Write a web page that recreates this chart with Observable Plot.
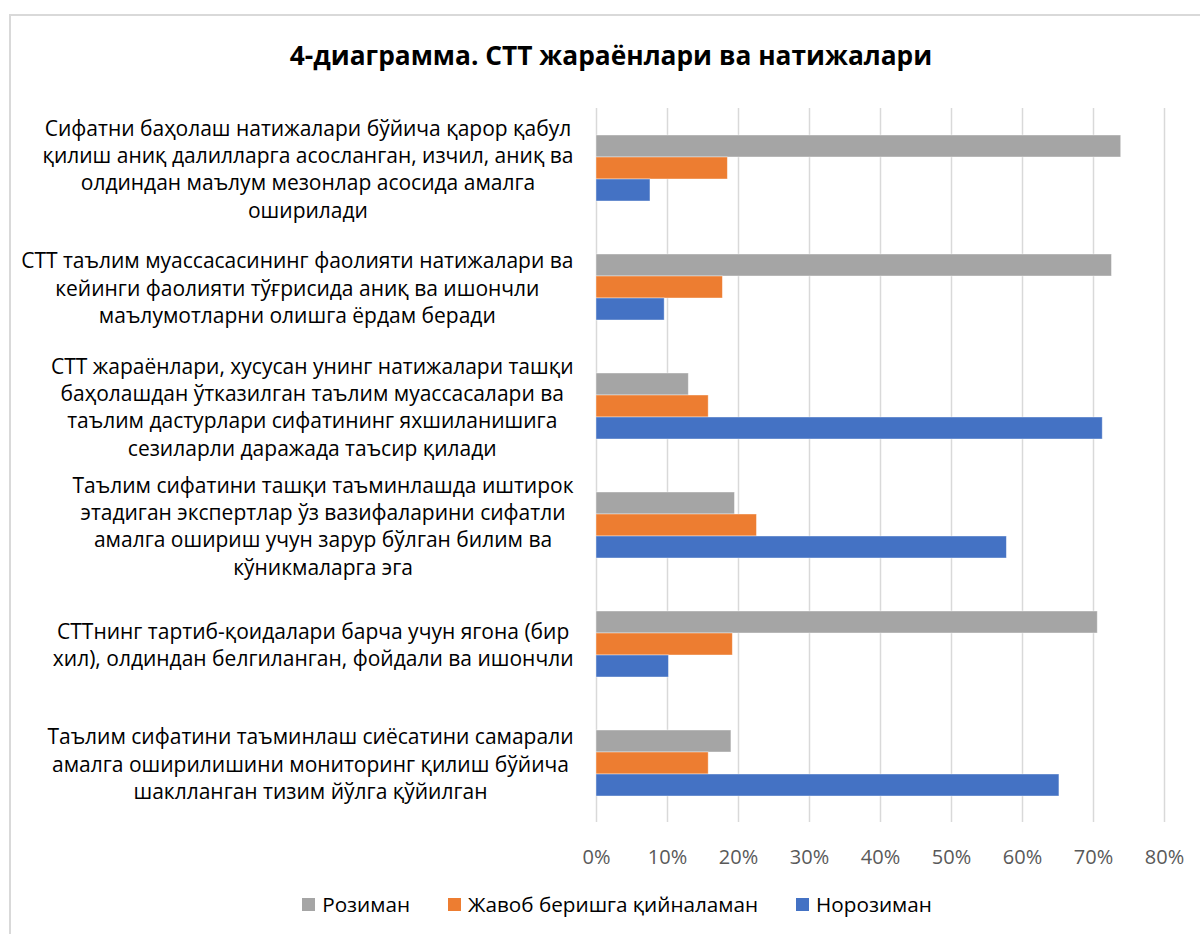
<!DOCTYPE html>
<html>
<head>
<meta charset="utf-8">
<script src="https://cdn.jsdelivr.net/npm/d3@7"></script>
<script src="https://cdn.jsdelivr.net/npm/@observablehq/plot@0.6"></script>
<style>
  html, body { margin: 0; padding: 0; background: #fff; }
  #wrap { position: relative; width: 1200px; height: 934px; overflow: hidden; font-family: "Open Sans", sans-serif; }
  #frame { position: absolute; left: 9px; top: 14px; width: 1400px; height: 1200px; border: 2px solid #d9d9d9; box-sizing: border-box; }
  #title { position: absolute; left: 0; width: 1222px; top: 37px; text-align: center; font-weight: bold; font-size: 26.3px; color: #000; }
  #chart { position: absolute; left: 0; top: 0; }
  #legend { position: absolute; left: 0; width: 1234px; top: 890px; display: flex; justify-content: center; align-items: center; font-size: 20.7px; color: #000; }
  .item { display: flex; align-items: center; margin: 0 19px; }
  .sw { width: 13px; height: 13px; margin-right: 7px; }
</style>
</head>
<body>
<div id="wrap">
  <div id="frame"></div>
  <div id="chart"></div>
  <div id="title">4-диаграмма. СТТ жараёнлари ва натижалари</div>
  <div id="legend"></div>
</div>
<script>
const categories = [
  "Сифатни баҳолаш натижалари бўйича қарор қабул\nқилиш аниқ далилларга асосланган, изчил, аниқ ва\nолдиндан маълум мезонлар асосида амалга\nоширилади",
  "СТТ таълим муассасасининг фаолияти натижалари ва\nкейинги фаолияти тўғрисида аниқ ва ишончли\nмаълумотларни олишга ёрдам беради",
  "СТТ жараёнлари, хусусан унинг натижалари ташқи\nбаҳолашдан ўтказилган таълим муассасалари ва\nтаълим дастурлари сифатининг яхшиланишига\nсезиларли даражада таъсир қилади",
  "Таълим сифатини ташқи таъминлашда иштирок\nэтадиган экспертлар ўз вазифаларини сифатли\nамалга ошириш учун зарур бўлган билим ва\nкўникмаларга эга",
  "СТТнинг тартиб-қоидалари барча учун ягона (бир\nхил), олдиндан белгиланган, фойдали ва ишончли",
  "Таълим сифатини таъминлаш сиёсатини самарали\nамалга оширилишини мониторинг қилиш бўйича\nшаклланган тизим йўлга қўйилган"
];
const series = ["Розиман", "Жавоб беришга қийналаман", "Норозиман"];
const rozimanValues = [73.9, 72.6, 13.0, 19.5, 70.6, 19.0];
const javobValues = [18.5, 17.8, 15.8, 22.6, 19.2, 15.8];
const norozimanValues = [7.6, 9.6, 71.3, 57.8, 10.2, 65.2];
const seriesColors = ["#A5A5A5", "#ED7D31", "#4472C4"];
const xTicks = [0, 10, 20, 30, 40, 50, 60, 70, 80];

const valuesBySeries = [rozimanValues, javobValues, norozimanValues];
const rows = [];
categories.forEach((c, i) => {
  series.forEach((s, j) => rows.push({category: c, series: s, value: valuesBySeries[j][i]}));
});

const labelSize = 21;
const ctx = document.createElement("canvas").getContext("2d");
ctx.font = labelSize + "px 'Open Sans'";
const labelRight = 573;
const plotLeft = 596;
const labelMarks = categories.map(c => {
  const w = d3.max(c.split("\n"), l => ctx.measureText(l).width);
  const center = labelRight - w / 2;
  return Plot.text([c], {
    fy: d => d, text: d => d, frameAnchor: "left", textAnchor: "middle",
    lineAnchor: "middle", lineHeight: 1.3, dx: center - plotLeft,
    fontSize: labelSize, fill: "#000"
  });
});

const chart = Plot.plot({
  width: 1200,
  height: 880,
  marginTop: 107,
  marginBottom: 58,
  marginLeft: plotLeft,
  marginRight: 36,
  style: {fontFamily: "'Open Sans', sans-serif", background: "transparent", overflow: "visible"},
  x: {domain: [0, 80], ticks: xTicks, tickFormat: d => d + "%", label: null, grid: false},
  fy: {domain: categories, padding: 0, axis: null, label: null},
  y: {domain: series, paddingInner: 0, paddingOuter: 1.09, axis: null},
  color: {domain: series, range: seriesColors},
  marks: [
    Plot.gridX(xTicks, {stroke: "#d9d9d9", strokeOpacity: 1, strokeWidth: 1.5}),
    Plot.barX(rows, {fy: "category", y: "series", x: "value", fill: "series", stroke: "#fff", strokeOpacity: 0.5, strokeWidth: 0.8}),
    Plot.axisX(xTicks, {tickFormat: d => d + "%", tickSize: 0, tickPadding: 27, fontSize: 20, fill: "#595959", label: null}),
    ...labelMarks
  ]
});
document.getElementById("chart").appendChild(chart);

const legend = document.getElementById("legend");
series.forEach((s, j) => {
  const item = document.createElement("div");
  item.className = "item";
  const sw = document.createElement("div");
  sw.className = "sw";
  sw.style.background = seriesColors[j];
  const t = document.createElement("span");
  t.textContent = s;
  item.appendChild(sw);
  item.appendChild(t);
  legend.appendChild(item);
});
</script>
</body>
</html>
